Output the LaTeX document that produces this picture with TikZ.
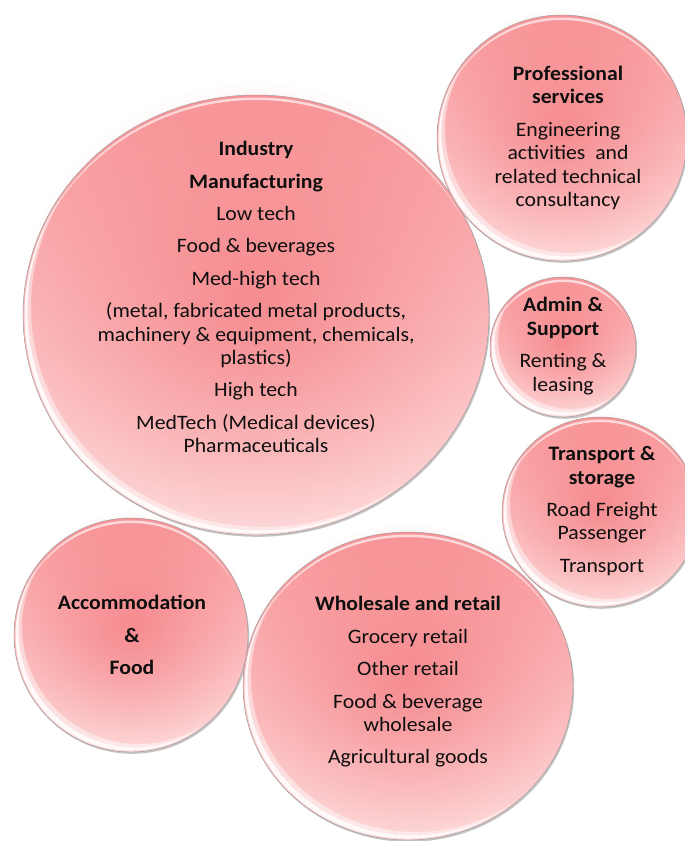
\documentclass[tikz,border=0pt]{standalone}
\usepackage{fontspec}
\setmainfont{Carlito}[FakeStretch=1.06]
\usetikzlibrary{fadings}
\definecolor{pkDark}{RGB}{243,122,127}
\definecolor{pkTop}{RGB}{249,150,153}
\definecolor{pkBot}{RGB}{253,214,215}
\definecolor{txtc}{RGB}{15,15,15}
\tikzfading[name=fuzzyc, inner color=transparent!30, outer color=transparent!100]
\newcommand\mybubble[4]{%
  \fill[black!45, opacity=0.5] (#1+1.2,#2+1.8) ellipse [x radius=#3pt, y radius=#4pt];
  \shade[top color=pkTop, bottom color=pkBot] (#1,#2) ellipse [x radius=#3pt, y radius=#4pt];
  \fill[pkDark, path fading=fuzzyc] (#1,#2-0.06*#4) ellipse [x radius=#3pt, y radius=#4pt];
  \begin{scope}
    \clip (#1,#2) ellipse [x radius=#3pt-1.5pt, y radius=#4pt-1.5pt];
    \fill[white, opacity=0.45, even odd rule] (#1,#2) ellipse [x radius=#3pt, y radius=#4pt] (#1+8,#2-8) ellipse [x radius=#3pt, y radius=#4pt];
    \fill[white, opacity=0.8, even odd rule] (#1,#2) ellipse [x radius=#3pt, y radius=#4pt] (#1+4.5,#2-4.5) ellipse [x radius=#3pt, y radius=#4pt];
  \end{scope}
  \begin{scope}
    \clip (#1,#2) ellipse [x radius=#3pt-2.5pt, y radius=#4pt-2.5pt];
    \fill[white, opacity=0.65, even odd rule] (#1,#2) ellipse [x radius=#3pt, y radius=#4pt] (#1,#2+5) ellipse [x radius=#3pt, y radius=#4pt];
  \end{scope}
  \draw[black!40, line width=0.45pt] (#1,#2) ellipse [x radius=#3pt, y radius=#4pt];
}
\tikzset{txt/.style={align=center, text=txtc, inner sep=0pt, font=\fontsize{20.5}{23.4}\selectfont}}
\begin{document}
\begin{tikzpicture}[x=1pt,y=-1pt]
\useasboundingbox (0,0) rectangle (685,841);
\fill[white] (0,0) rectangle (685,841);
\clip (0,0) rectangle (685,841);
% bubbles
\mybubble{256}{315}{233}{220}
\mybubble{562}{138}{125}{123}
\mybubble{563}{347}{73}{70}
\mybubble{600}{512}{98}{95}
\mybubble{131}{635}{117}{117}
\mybubble{408}{686}{165}{154}
% texts
\node[txt] (ind) at (256,297) {\textbf{Industry}\\[9pt]\textbf{Manufacturing}\\[9pt]Low tech\\[9pt]Food \& beverages\\[9pt]Med-high tech\\[9pt](metal, fabricated metal products,\\machinery \& equipment, chemicals,\\plastics)\\[9pt]High tech\\[9pt]MedTech (Medical devices)\\Pharmaceuticals};
\node[txt] (prof) at (568,138) {\textbf{Professional}\\\textbf{services}\\[9pt]Engineering\\activities\ \ and\\related technical\\consultancy};
\node[txt] (adm) at (563,346) {\textbf{Admin \&}\\\textbf{Support}\\[9pt]Renting \&\\leasing};
\node[txt] (trn) at (602,511) {\textbf{Transport \&}\\\textbf{storage}\\[9pt]Road Freight\\Passenger\\[9pt]Transport};
\node[txt] (acc) at (132,635) {\textbf{Accommodation}\\[9pt]\textbf{\&}\\[9pt]\textbf{Food}};
\node[txt] (whs) at (408,682) {\textbf{Wholesale and retail}\\[9pt]Grocery retail\\[9pt]Other retail\\[9pt]Food \& beverage\\wholesale\\[9pt]Agricultural goods};
\end{tikzpicture}
\end{document}
